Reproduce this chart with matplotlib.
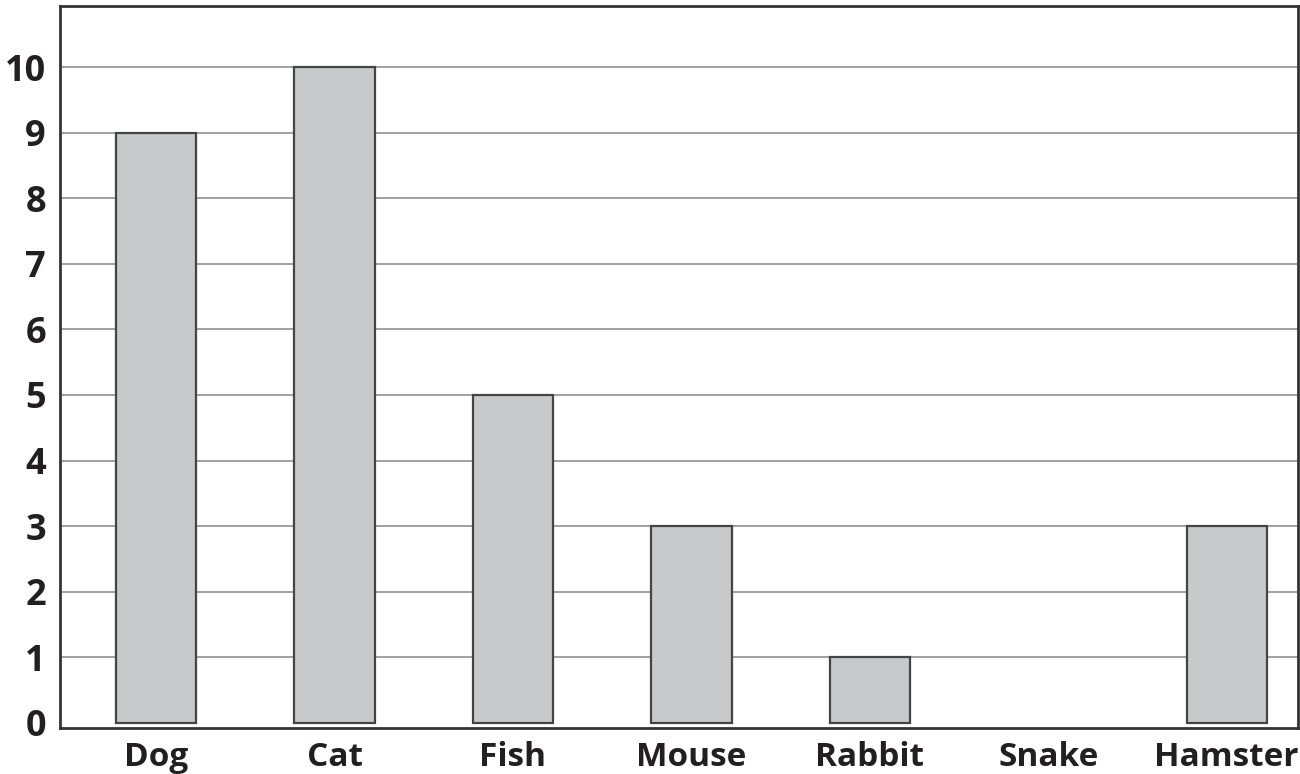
import matplotlib.pyplot as plt
import numpy as np

# Pet counts
pets = ['Dog', 'Cat', 'Fish', 'Mouse', 'Rabbit', 'Snake', 'Hamster']
counts = [9, 10, 5, 3, 1, 0, 3]
y_ticks = list(range(0, 11))

plt.rcParams['font.family'] = ['Open Sans', 'DejaVu Sans']

fig = plt.figure(figsize=(13, 7.74), dpi=100)
ax = fig.add_axes([0.046, 0.0594, 0.9525, 0.9326])

x = np.arange(len(pets))
bars = ax.bar(x, counts, width=0.45, color='#c8c9cb', edgecolor='#444444', linewidth=1.6, zorder=3)
# the empty category gets no outline
for b, v in zip(bars, counts):
    if v == 0:
        b.set_visible(False)

ax.set_xlim(-0.54, 6.40)
ax.set_ylim(-0.08, 10.93)
ax.set_yticks(y_ticks)
ax.set_xticks(x)
ax.set_xticklabels(pets, fontsize=24, fontweight='bold', color='#231f20')
ax.set_yticklabels([str(t) for t in y_ticks], fontsize=26, fontweight='bold', color='#231f20')
ax.tick_params(axis='both', length=0)
ax.tick_params(axis='y', pad=10)
ax.tick_params(axis='x', pad=9)

ax.yaxis.grid(True, color='#999999', linewidth=1.3, zorder=0)
ax.get_ygridlines()[0].set_visible(False)
ax.set_axisbelow(True)
for s in ax.spines.values():
    s.set_color('#333333')
    s.set_linewidth(2)

plt.savefig('out.png', dpi=100)
